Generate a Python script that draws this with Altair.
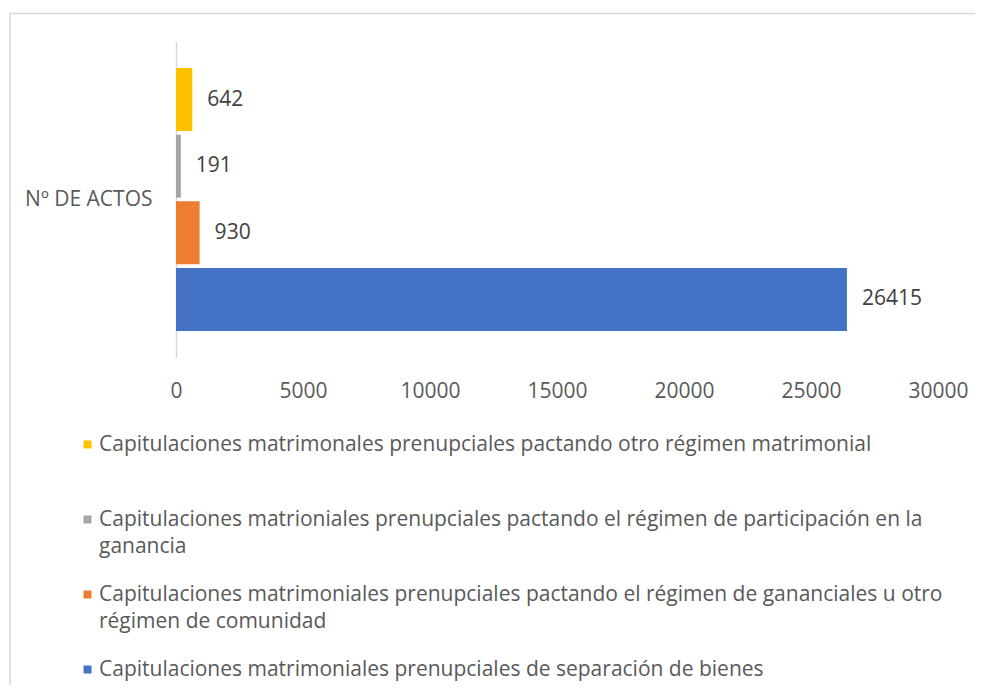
import altair as alt
import pandas as pd

CATEGORY = "Nº DE ACTOS"
SERIES = [
    "Capitulaciones matrimonales prenupciales pactando otro régimen matrimonial",
    "Capitulaciones matrioniales prenupciales pactando el régimen de participación en la ganancia",
    "Capitulaciones matrimoniales prenupciales pactando el régimen de gananciales u otro régimen de comunidad",
    "Capitulaciones matrimoniales prenupciales de separación de bienes",
]
VALUES = [642, 191, 930, 26415]
COLORS = ["#FFC000", "#A5A5A5", "#ED7D31", "#4472C4"]
LEGEND_LINES = [
    ["Capitulaciones matrimonales prenupciales pactando otro régimen matrimonial", ""],
    ["Capitulaciones matrioniales prenupciales pactando el régimen de participación en la", "ganancia"],
    ["Capitulaciones matrimoniales prenupciales pactando el régimen de gananciales u otro", "régimen de comunidad"],
    ["Capitulaciones matrimoniales prenupciales de separación de bienes", ""],
]
X_TICKS = [0, 5000, 10000, 15000, 20000, 25000, 30000]

df = pd.DataFrame({"cat": [CATEGORY] * len(SERIES), "serie": SERIES, "valor": VALUES})

# legend label expression (manual line breaks)
expr = "datum.label"
for name, lines in reversed(list(zip(SERIES, LEGEND_LINES))):
    arr = "[" + ", ".join("'" + l + "'" for l in lines) + "]"
    expr = f"datum.label == '{name}' ? {arr} : ({expr})"

FONT = "Open Sans"
FS = 21

y_enc = alt.Y("cat:N", title=None,
              scale=alt.Scale(paddingInner=0, paddingOuter=0.099),
              axis=alt.Axis(ticks=False, labelPadding=24, labelFontSize=FS,
                            labelColor="#595959", labelFont=FONT,
                            domainColor="#D9D9D9", domainWidth=1.5))
yoff_enc = alt.YOffset("serie:N", sort=SERIES,
                       scale=alt.Scale(domain=SERIES, paddingInner=0.055, paddingOuter=0))
x_enc = alt.X("valor:Q", title=None,
              scale=alt.Scale(domain=[0, 30000], nice=False, zero=True),
              axis=alt.Axis(values=X_TICKS, format="d", grid=False, domain=False,
                            ticks=False, tickSize=0, labelPadding=23, labelFlush=False,
                            labelFontSize=FS, labelColor="#595959", labelFont=FONT))

base = alt.Chart(df)

bars = base.mark_bar().encode(
    x=x_enc,
    y=y_enc,
    yOffset=yoff_enc,
    color=alt.Color("serie:N", sort=SERIES,
                    scale=alt.Scale(domain=SERIES, range=COLORS),
                    legend=alt.Legend(title=None, orient="none", legendX=-99, legendY=392,
                                      direction="vertical", padding=0,
                                      symbolType="square", symbolSize=64,
                                      symbolStrokeWidth=0, labelOffset=1,
                                      labelFontSize=FS, labelColor="#595959",
                                      labelFont=FONT, labelLimit=1000,
                                      rowPadding=26, labelExpr=expr)),
)

labels = base.mark_text(align="left", baseline="middle", dx=15, fontSize=FS,
                        color="#404040", font=FONT).encode(
    x="valor:Q",
    y=alt.Y("cat:N"),
    yOffset=alt.YOffset("serie:N", sort=SERIES),
    text=alt.Text("valor:Q", format="d"),
)

frame = alt.Chart(alt.Data(values=[{"a": 1}])).mark_rect(
    fillOpacity=0, stroke="#D9D9D9", strokeWidth=1.5
).encode(
    x=alt.value(-166), y=alt.value(-28.5), x2=alt.value(900), y2=alt.value(800)
)

chart = alt.layer(frame, bars, labels).properties(
    width=762, height=315,
    autosize=alt.AutoSizeParams(type="none"),
    padding={"left": 168, "top": 34, "right": 37, "bottom": 328},
).configure(
    style={"guide-label": {"lineHeight": 27}}
).configure_view(strokeWidth=0, stroke=None)

chart.save("out.html", embed_options={"renderer": "svg", "actions": False})
